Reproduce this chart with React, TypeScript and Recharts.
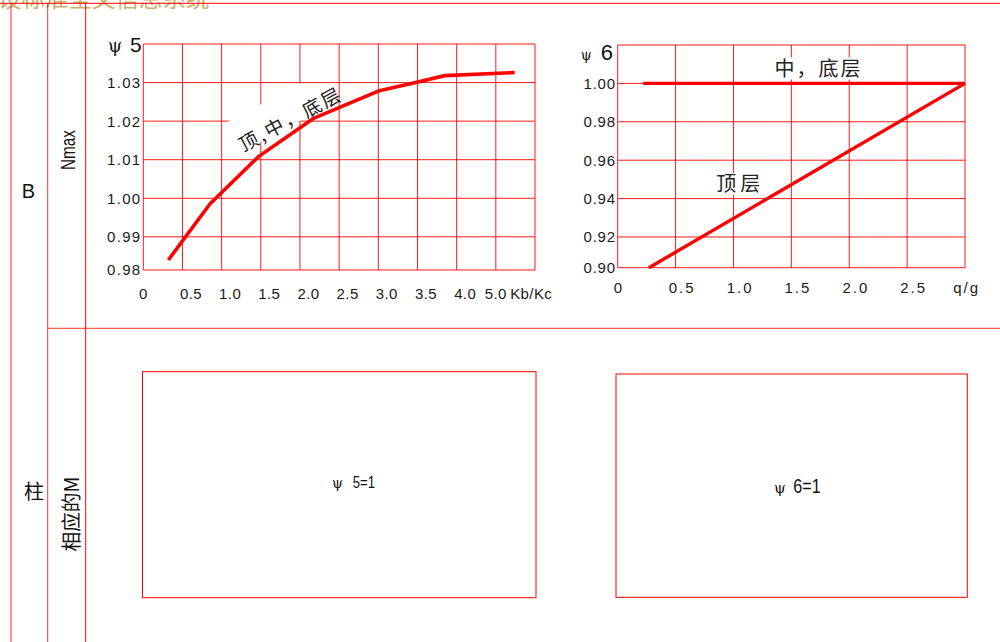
import React from 'react';
import { LineChart, Line, XAxis, YAxis, CartesianGrid, ReferenceDot } from 'recharts';

// ---------- data: chart ψ5 (Nmax, B) ----------
const psi5XTicks = [0, 0.5, 1.0, 1.5, 2.0, 2.5, 3.0, 3.5, 4.0, 4.5, 5.0];
const psi5XLabels = ['0', '0.5', '1.0', '1.5', '2.0', '2.5', '3.0', '3.5', '4.0', '5.0', 'Kb/Kc'];
const psi5YTicks = [0.9814, 0.99, 1.0, 1.01, 1.02, 1.03, 1.04];
const psi5YLabels = ['0.98', '0.99', '1.00', '1.01', '1.02', '1.03', 'ψ 5'];
const psi5Curve = [
  { x: 0.32, y: 0.984 },
  { x: 0.85, y: 0.9985 },
  { x: 1.47, y: 1.0108 },
  { x: 2.18, y: 1.0208 },
  { x: 3.0, y: 1.0278 },
  { x: 3.49, y: 1.0301 },
  { x: 3.85, y: 1.0318 },
  { x: 4.74, y: 1.0326 },
];
const psi5Note = { x: 1.29, y: 1.0115, text: '顶,中，底层' };

// ---------- data: chart ψ6 ----------
const psi6XTicks = [0, 0.5, 1.0, 1.5, 2.0, 2.5, 3.0];
const psi6XLabels = ['0', '0.5', '1.0', '1.5', '2.0', '2.5', 'q/g'];
const psi6YTicks = [0.904, 0.92, 0.94, 0.96, 0.98, 1.0, 1.02];
const psi6YLabels = ['0.90', '0.92', '0.94', '0.96', '0.98', '1.00', 'ψ 6'];
const psi6MidBottom = [
  { x: 0.22, y: 1.0 },
  { x: 3.0, y: 1.0 },
];
const psi6Top = [
  { x: 0.27, y: 0.904 },
  { x: 3.0, y: 1.0 },
];
const psi6Notes = [
  { x: 1.726, y: 1.0078, text: '中，底层', len: 86 },
  { x: 1.042, y: 0.9476, text: '顶层', len: 44 },
];

// ---------- table texts ----------
const headerText = '设标准全文信息系统';
const rowB = 'B';
const rowBItem = 'Nmax';
const rowCol = '柱';
const rowColItem = '相应的M';
const box5Text = ['ψ', '5=1'];
const box6Text = ['ψ', '6=1'];

const RED = '#ff0000';
const SANS = "'Liberation Sans', Arial, sans-serif";
const CJK = "'Noto Sans CJK SC', sans-serif";
const SERIF = "'DejaVu Serif', serif";

type TitleOpt = { dx: number; dy: number; psiSize: number; numSize: number; gap: number };

function makeYTick(labels: string[], ls: number, title: TitleOpt) {
  return (props: any) => {
    const { x, y, index } = props;
    const label = labels[index];
    if (label && label.startsWith('ψ')) {
      const [sym, num] = label.split(' ');
      return (
        <text x={x - title.dx} y={y + title.dy} textAnchor="end" fill="#111">
          <tspan fontFamily={SERIF} fontSize={title.psiSize}>{sym}</tspan>
          <tspan dx={title.gap} fontFamily={SANS} fontSize={title.numSize}>{num}</tspan>
        </text>
      );
    }
    return (
      <text x={x - 1.8} y={y + 5.4} textAnchor="end" fontFamily={SANS} fontSize={15} letterSpacing={ls} fill="#1a1a1a">
        {label}
      </text>
    );
  };
}

type XOpt = { first: number; interior: number; penult: number; last: number; dy: number; ls: number };

function makeXTick(labels: string[], o: XOpt) {
  return (props: any) => {
    const { x, y, index } = props;
    const n = labels.length;
    let dx = o.interior;
    if (index === 0) dx = o.first;
    else if (index === n - 1) dx = o.last;
    else if (index === n - 2) dx = o.penult;
    return (
      <text x={x + dx} y={y + o.dy} textAnchor="middle" fontFamily={SANS} fontSize={15} letterSpacing={o.ls} fill="#1a1a1a">
        {labels[index]}
      </text>
    );
  };
}

const Psi5Chart = () => (
  <LineChart width={490} height={295} margin={{ top: 19, right: 35, bottom: 0, left: 0 }}>
    <CartesianGrid stroke={RED} strokeWidth={1} strokeOpacity={0.9} />
    <XAxis
      type="number"
      dataKey="x"
      domain={[0, 5]}
      ticks={psi5XTicks}
      interval={0}
      height={50}
      axisLine={false}
      tickLine={false}
      tickSize={0}
      tickMargin={0}
      tick={makeXTick(psi5XLabels, { first: 0, interior: 8.5, penult: 0, last: -3.8, dy: 29, ls: 0.4 })}
    />
    <YAxis
      type="number"
      dataKey="y"
      domain={[0.9814, 1.04]}
      ticks={psi5YTicks}
      interval={0}
      width={63.3}
      axisLine={false}
      tickLine={false}
      tickSize={0}
      tickMargin={0}
      tick={makeYTick(psi5YLabels, 1.3, { dx: 1.6, dy: 8.3, psiSize: 18, numSize: 21, gap: 8 })}
    />
    <ReferenceDot
      x={psi5Note.x}
      y={psi5Note.y}
      r={0}
      shape={(p: any) => (
        <g transform={`translate(${p.cx},${p.cy}) rotate(-28)`}>
          <rect x={-3} y={-36} width={87} height={33} fill="#ffffff" />
          <text x={0} y={-2} fontFamily={CJK} fontSize={19} textLength={112} lengthAdjust="spacing" fill="#222">
            {psi5Note.text}
          </text>
        </g>
      )}
    />
    <Line
      data={psi5Curve}
      dataKey="y"
      type="linear"
      stroke={RED}
      strokeWidth={3.6}
      strokeLinejoin="round"
      dot={false}
      activeDot={false}
      isAnimationActive={false}
    />
  </LineChart>
);

const Psi6Chart = () => (
  <LineChart width={430} height={295} margin={{ top: 20, right: 35, bottom: 0, left: 0 }}>
    <CartesianGrid stroke={RED} strokeWidth={1} strokeOpacity={0.9} />
    <XAxis
      type="number"
      dataKey="x"
      domain={[0, 3]}
      ticks={psi6XTicks}
      interval={0}
      height={52.3}
      axisLine={false}
      tickLine={false}
      tickSize={0}
      tickMargin={0}
      tick={makeXTick(psi6XLabels, { first: 1.3, interior: 6.6, penult: 6.6, last: 1.6, dy: 25.6, ls: 2 })}
    />
    <YAxis
      type="number"
      dataKey="y"
      domain={[0.904, 1.02]}
      ticks={psi6YTicks}
      interval={0}
      width={47.7}
      axisLine={false}
      tickLine={false}
      tickSize={0}
      tickMargin={0}
      tick={makeYTick(psi6YLabels, 0.8, { dx: 4.7, dy: 15, psiSize: 14, numSize: 22, gap: 9 })}
    />
    {psi6Notes.map((n) => (
      <ReferenceDot
        key={n.text}
        x={n.x}
        y={n.y}
        r={0}
        shape={(p: any) => (
          <g>
            <rect x={p.cx - n.len / 2 - 2} y={p.cy - 11} width={n.len + 4} height={22} fill="#ffffff" />
            <text
              x={p.cx - n.len / 2}
              y={p.cy + 7.5}
              fontFamily={CJK}
              fontSize={20}
              textLength={n.len}
              lengthAdjust="spacing"
              fill="#222"
            >
              {n.text}
            </text>
          </g>
        )}
      />
    ))}
    <Line
      data={psi6MidBottom}
      dataKey="y"
      type="linear"
      stroke={RED}
      strokeWidth={3.4}
      dot={false}
      activeDot={false}
      isAnimationActive={false}
    />
    <Line
      data={psi6Top}
      dataKey="y"
      type="linear"
      stroke={RED}
      strokeWidth={3.4}
      dot={false}
      activeDot={false}
      isAnimationActive={false}
    />
  </LineChart>
);

const Frame = () => (
  <svg width={1000} height={642} style={{ position: 'absolute', left: 0, top: 0 }}>
    <text x={-2} y={6.5} fontFamily={CJK} fontSize={23.5} fill="#cdb06c">
      {headerText}
    </text>
    <line x1={0} y1={3.3} x2={1000} y2={3.3} stroke={RED} strokeWidth={1} />
    <line x1={11} y1={3} x2={11} y2={642} stroke={RED} strokeWidth={1} strokeOpacity={0.8} />
    <line x1={47.7} y1={3} x2={47.7} y2={642} stroke={RED} strokeWidth={1} strokeOpacity={0.8} />
    <line x1={85.7} y1={3} x2={85.7} y2={642} stroke={RED} strokeWidth={1} />
    <line x1={47.7} y1={328.3} x2={1000} y2={328.3} stroke={RED} strokeWidth={1} strokeOpacity={0.8} />

    <text x={28.5} y={198.3} textAnchor="middle" fontFamily={SANS} fontSize={20} fill="#111">
      {rowB}
    </text>
    <text
      transform="translate(75,170) rotate(-90)"
      x={0}
      y={0}
      fontFamily={SANS}
      fontSize={21}
      textLength={40}
      lengthAdjust="spacingAndGlyphs"
      fill="#111"
    >
      {rowBItem}
    </text>
    <text x={34} y={490} textAnchor="middle" dominantBaseline="central" fontFamily={CJK} fontSize={20} fill="#111">
      {rowCol}
    </text>
    <text
      transform="translate(70,514) rotate(-90)"
      x={-37.5}
      y={0}
      dominantBaseline="central"
      fontFamily={CJK}
      fontSize={20}
      textLength={75}
      lengthAdjust="spacingAndGlyphs"
      fill="#111"
    >
      {rowColItem}
    </text>

    <rect x={142.5} y={371.7} width={393.5} height={226} fill="none" stroke={RED} strokeWidth={1} />
    <rect x={616} y={374} width={351.3} height={223.3} fill="none" stroke={RED} strokeWidth={1} />

    <text x={332} y={488.3} fill="#111">
      <tspan fontFamily={SERIF} fontSize={14}>{box5Text[0]}</tspan>
      <tspan x={352.7} fontFamily={SANS} fontSize={17} textLength={22.3} lengthAdjust="spacingAndGlyphs">
        {box5Text[1]}
      </tspan>
    </text>
    <text x={774} y={492.7} fill="#111">
      <tspan fontFamily={SERIF} fontSize={15}>{box6Text[0]}</tspan>
      <tspan x={793.3} fontFamily={SANS} fontSize={19.5} textLength={27.4} lengthAdjust="spacingAndGlyphs">
        {box6Text[1]}
      </tspan>
    </text>
  </svg>
);

export default function App() {
  return (
    <div
      style={{
        position: 'absolute',
        left: 0,
        top: 0,
        width: 1000,
        height: 642,
        background: '#ffffff',
        overflow: 'hidden',
      }}
    >
      <Frame />
      <div style={{ position: 'absolute', left: 80, top: 25 }}>
        <Psi5Chart />
      </div>
      <div style={{ position: 'absolute', left: 570, top: 25 }}>
        <Psi6Chart />
      </div>
    </div>
  );
}
